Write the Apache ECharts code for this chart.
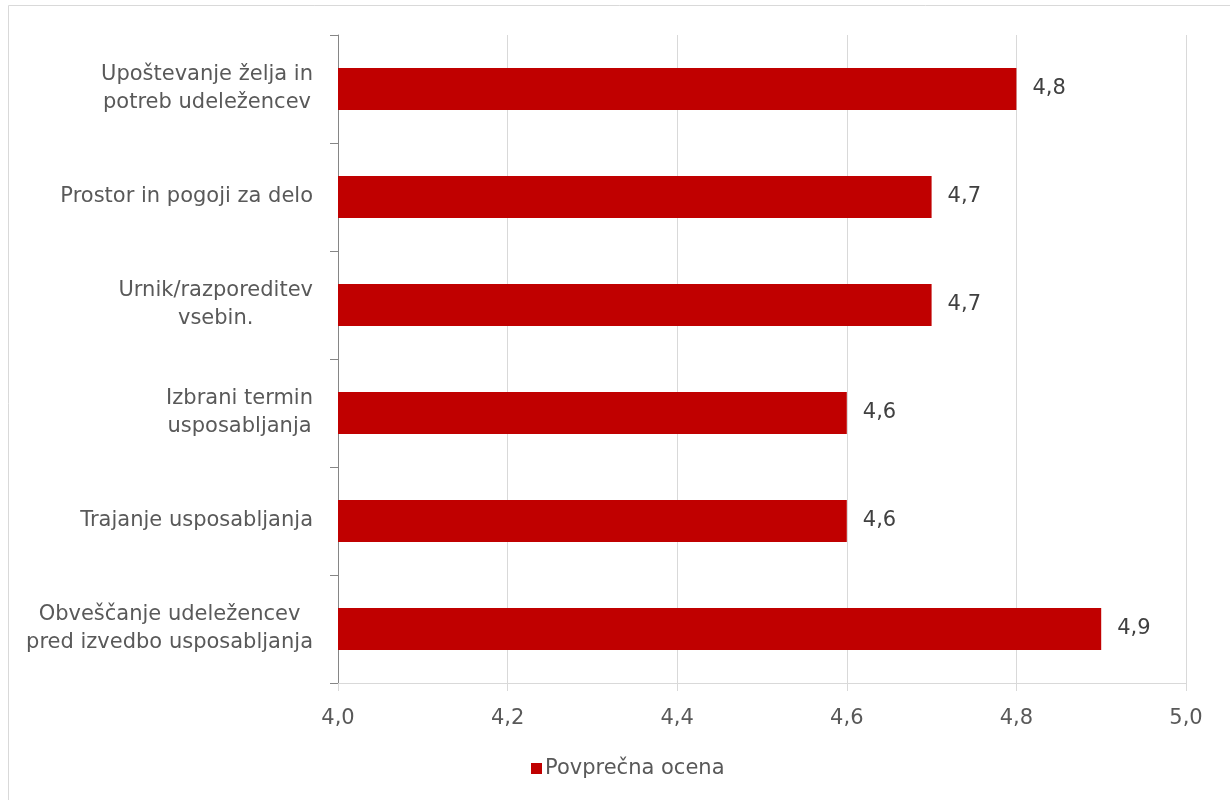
<!DOCTYPE html>
<html><head><meta charset="utf-8">
<script src="https://cdn.jsdelivr.net/npm/echarts@6/dist/echarts.min.js"></script>
<style>html,body{margin:0;padding:0;background:#fff}#c{width:1230px;height:800px}</style>
</head><body><div id="c"></div>
<script>
const categories = [
  "Upoštevanje želja in\npotreb udeležencev",
  "Prostor in pogoji za delo",
  "Urnik/razporeditev\nvsebin.",
  "Izbrani termin\nusposabljanja",
  "Trajanje usposabljanja",
  "Obveščanje udeležencev\npred izvedbo usposabljanja"
];
const values = [4.8, 4.7, 4.7, 4.6, 4.6, 4.9];
const seriesName = "Povprečna ocena";
const FONT = "'DejaVu Sans', Verdana, sans-serif";
const fmt = v => v.toFixed(1).replace('.', ',');

const chart = echarts.init(document.getElementById('c'));
chart.setOption({
  animation: false,
  textStyle: { fontFamily: FONT },
  graphic: [{
    type: 'rect', left: 6, top: 3, silent: true,
    shape: { width: 1240, height: 810 },
    style: { fill: 'none', stroke: '#d9d9d9', lineWidth: 1 }
  }],
  grid: { left: 338, right: 44, top: 35, bottom: 117, containLabel: false },
  legend: {
    top: 753, left: 526,
    icon: 'rect', itemWidth: 11, itemHeight: 11, itemGap: 6,
    textStyle: { fontFamily: FONT, fontSize: 21, color: '#595959', padding: [0, 0, 0, -2] },
    data: [seriesName]
  },
  xAxis: {
    type: 'value', min: 4.0, max: 5.0, interval: 0.2,
    axisLine: { show: true, lineStyle: { color: '#d9d9d9' } },
    axisTick: { show: true, length: 8, lineStyle: { color: '#d9d9d9' } },
    splitLine: { show: true, lineStyle: { color: '#d9d9d9' } },
    axisLabel: { formatter: fmt, margin: 25, fontFamily: FONT, fontSize: 21, color: '#595959' }
  },
  yAxis: {
    type: 'category', inverse: true, data: categories,
    axisLine: { show: true, lineStyle: { color: '#868686' } },
    axisTick: { show: true, length: 8, lineStyle: { color: '#868686' } },
    axisLabel: {
      margin: 25, fontFamily: FONT, fontSize: 21, color: '#595959', lineHeight: 28,
      formatter: v => v.split('\n').map(l => '{c|' + l + '}').join('\n'),
      rich: { c: { align: 'center', fontFamily: FONT, fontSize: 21, color: '#595959', lineHeight: 28 } }
    }
  },
  series: [{
    name: seriesName, type: 'bar', data: values, barWidth: 42,
    itemStyle: { color: '#C00000' },
    label: { show: true, position: 'right', distance: 16, formatter: p => fmt(p.value),
      fontFamily: FONT, fontSize: 21, color: '#404040' }
  }]
});
</script></body></html>
